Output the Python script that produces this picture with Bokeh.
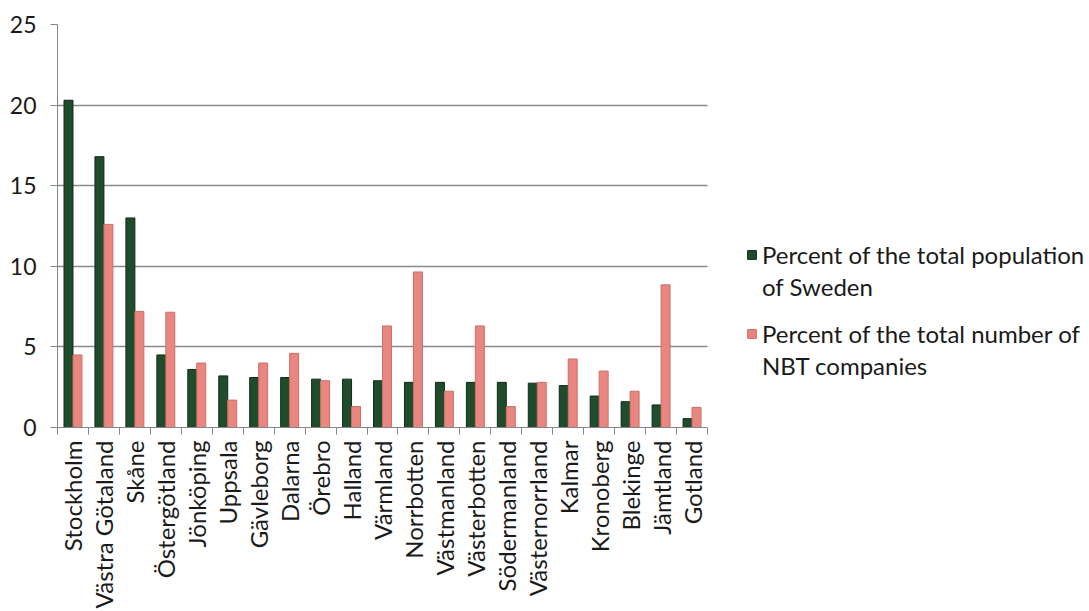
import math
from bokeh.plotting import figure
from bokeh.models import (Range1d, FixedTicker, Legend, LegendItem, ColumnDataSource)
from bokeh.embed import file_html
from bokeh.resources import INLINE

counties = ["Stockholm", "Västra Götaland", "Skåne", "Östergötland", "Jönköping",
            "Uppsala", "Gävleborg", "Dalarna", "Örebro", "Halland", "Värmland",
            "Norrbotten", "Västmanland", "Västerbotten", "Södermanland",
            "Västernorrland", "Kalmar", "Kronoberg", "Blekinge", "Jämtland", "Gotland"]
population_pct = [20.3, 16.8, 13.0, 4.5, 3.6, 3.2, 3.1, 3.1, 3.0, 3.0, 2.9,
                  2.8, 2.8, 2.8, 2.8, 2.75, 2.6, 1.95, 1.6, 1.4, 0.55]
nbt_pct = [4.5, 12.6, 7.2, 7.15, 4.0, 1.7, 4.0, 4.6, 2.9, 1.3, 6.3,
           9.65, 2.25, 6.3, 1.3, 2.8, 4.25, 3.5, 2.25, 8.85, 1.25]
y_ticks = [0, 5, 10, 15, 20, 25]
series_lines = [["Percent of the total population", "of Sweden"],
                ["Percent of the total number of", "NBT companies"]]

FONT = "Lato"
n = len(counties)
centers = [i + 0.5 for i in range(n)]
bw = 0.29
FRAME_W = 1089 - 57
CHART_W = 650

src = ColumnDataSource(dict(
    xg=[c - bw / 2 for c in centers],
    xp=[c + bw / 2 for c in centers],
    pop=population_pct, nbt=nbt_pct))

p = figure(width=1089, height=611, output_backend="svg", toolbar_location=None,
           x_range=Range1d(0, n * FRAME_W / CHART_W), y_range=Range1d(0, 25),
           min_border_left=57, min_border_right=0, min_border_top=24,
           min_border_bottom=183)
p.outline_line_color = None
p.background_fill_color = "white"
p.border_fill_color = "white"

g = p.vbar(x="xg", top="pop", width=bw, source=src, fill_color="#1f4d2b",
           line_color="#10291a", line_width=1)
r = p.vbar(x="xp", top="nbt", width=bw, source=src, fill_color="#e8867f",
           line_color="#c9706b", line_width=1)

# x axis
xa = p.xaxis[0]
xa.ticker = FixedTicker(ticks=centers, minor_ticks=list(range(n + 1)))
xa.bounds = (0, n)
xa.major_label_overrides = {c: name for c, name in zip(centers, counties)}
xa.major_label_orientation = math.pi / 2
xa.major_tick_line_color = None
xa.minor_tick_line_color = "#868686"
xa.minor_tick_out = 7
xa.minor_tick_in = 0
xa.axis_line_color = "#868686"
xa.major_label_text_font = FONT
xa.major_label_text_font_size = "24px"
xa.major_label_text_color = "#1a1a1a"
xa.major_label_standoff = 6

# y axis
ya = p.yaxis[0]
ya.ticker = FixedTicker(ticks=y_ticks)
ya.minor_tick_line_color = None
ya.major_tick_line_color = "#868686"
ya.major_tick_out = 7
ya.major_tick_in = 0
ya.axis_line_color = "#868686"
ya.major_label_text_font = FONT
ya.major_label_text_font_size = "23px"
ya.major_label_text_color = "#1a1a1a"
ya.major_label_standoff = 14

p.xgrid.grid_line_color = None
p.ygrid.grid_line_color = "#8a8a8a"
p.ygrid.grid_line_width = 1.3
p.ygrid.cross_bounds = (0, n)


def make_legend(lines, renderer, loc):
    lg = Legend(items=[LegendItem(label=lines[0], renderers=[renderer]),
                       LegendItem(label=lines[1], renderers=[])],
                location=loc)
    lg.border_line_color = None
    lg.background_fill_alpha = 0
    lg.inactive_fill_alpha = 0
    lg.label_text_font = FONT
    lg.label_text_font_size = "24px"
    lg.label_text_color = "#1a1a1a"
    lg.glyph_width = 11
    lg.glyph_height = 11
    lg.label_standoff = 5
    lg.spacing = 3
    lg.padding = 0
    lg.margin = 0
    p.add_layout(lg, "center")


make_legend(series_lines[0], g, (689, 126))
make_legend(series_lines[1], r, (689, 47))

open("out.html", "w").write(file_html(p, INLINE))
